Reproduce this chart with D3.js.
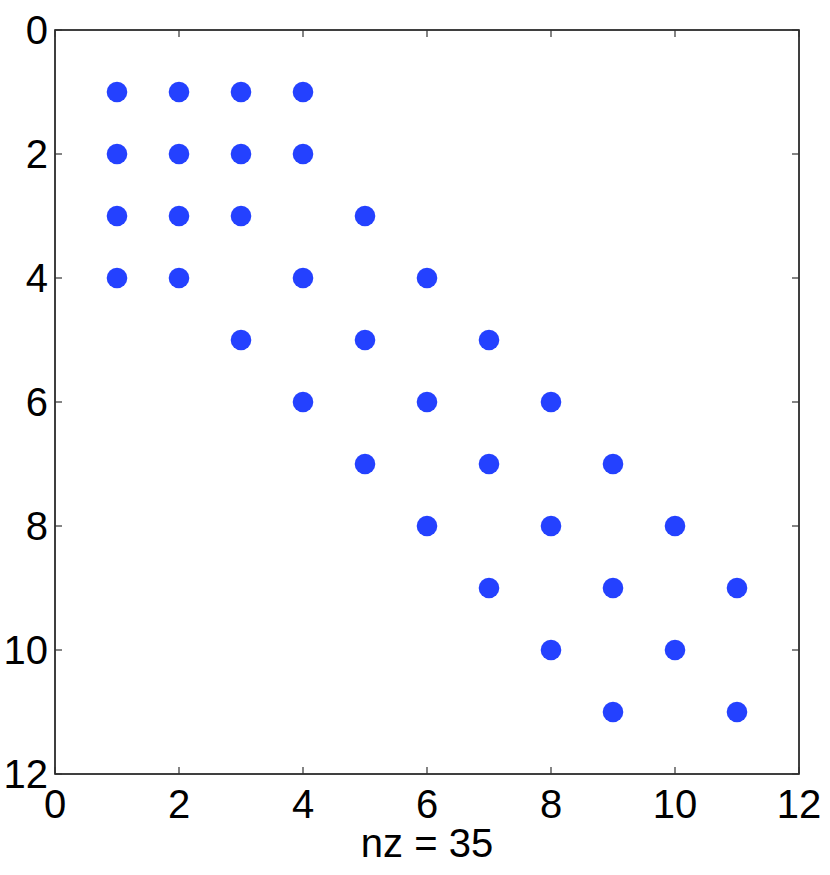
<!DOCTYPE html>
<html>
<head>
<meta charset="utf-8">
<script src="https://cdn.jsdelivr.net/npm/d3@7"></script>
<style>
  body { margin: 0; background: #fff; }
  text { font-family: "Liberation Sans", Arial, sans-serif; fill: #000; }
</style>
</head>
<body>
<div id="chart"></div>
<script>
// nonzero entries of the sparse matrix (row, column)
var rows = [1,1,1,1, 2,2,2,2, 3,3,3,3, 4,4,4,4, 5,5,5, 6,6,6, 7,7,7, 8,8,8, 9,9,9, 10,10, 11,11];
var cols = [1,2,3,4, 1,2,3,4, 1,2,3,5, 1,2,4,6, 3,5,7, 4,6,8, 5,7,9, 6,8,10, 7,9,11, 8,10, 9,11];
var ticks = [0, 2, 4, 6, 8, 10, 12];
var xLabel = "nz = " + rows.length;

var width = 830,
    height = 875;
var mLeft = 55, mTop = 30, mRight = 799, mBottom = 774;

var svg = d3.select("#chart")
    .append("svg")
    .attr("width", width)
    .attr("height", height);

var x = d3.scaleLinear().domain([0, 12]).range([mLeft, mRight]);
var y = d3.scaleLinear().domain([0, 12]).range([mTop, mBottom]);

var tickLen = 7;

// frame
svg.append("rect")
    .attr("x", mLeft).attr("y", mTop)
    .attr("width", mRight - mLeft).attr("height", mBottom - mTop)
    .style("fill", "none")
    .style("stroke", "#000")
    .style("stroke-width", 1.5);

// inward ticks on all four sides
var tk = svg.append("g").style("stroke", "#333").style("stroke-width", 1.2);
ticks.forEach(function(t) {
    tk.append("line").attr("x1", x(t)).attr("x2", x(t)).attr("y1", mBottom).attr("y2", mBottom - tickLen);
    tk.append("line").attr("x1", x(t)).attr("x2", x(t)).attr("y1", mTop).attr("y2", mTop + tickLen);
    tk.append("line").attr("y1", y(t)).attr("y2", y(t)).attr("x1", mLeft).attr("x2", mLeft + tickLen);
    tk.append("line").attr("y1", y(t)).attr("y2", y(t)).attr("x1", mRight).attr("x2", mRight - tickLen);
});

// tick labels
svg.append("g").selectAll("text")
    .data(ticks)
    .enter().append("text")
    .attr("x", function(d) { return x(d); })
    .attr("y", 818)
    .attr("text-anchor", "middle")
    .style("font-size", "40px")
    .text(function(d) { return d; });

svg.append("g").selectAll("text")
    .data(ticks)
    .enter().append("text")
    .attr("x", 48)
    .attr("y", function(d) { return y(d) + 14; })
    .attr("text-anchor", "end")
    .style("font-size", "40px")
    .text(function(d) { return d; });

svg.append("text")
    .attr("x", (mLeft + mRight) / 2)
    .attr("y", 857)
    .attr("text-anchor", "middle")
    .style("font-size", "40px")
    .text(xLabel);

// dots
svg.append("g").selectAll("circle")
    .data(rows.map(function(r, i) { return {r: r, c: cols[i]}; }))
    .enter().append("circle")
    .attr("cx", function(d) { return x(d.c); })
    .attr("cy", function(d) { return y(d.r); })
    .attr("r", 10.3)
    .style("fill", "#2441ff");
</script>
</body>
</html>
